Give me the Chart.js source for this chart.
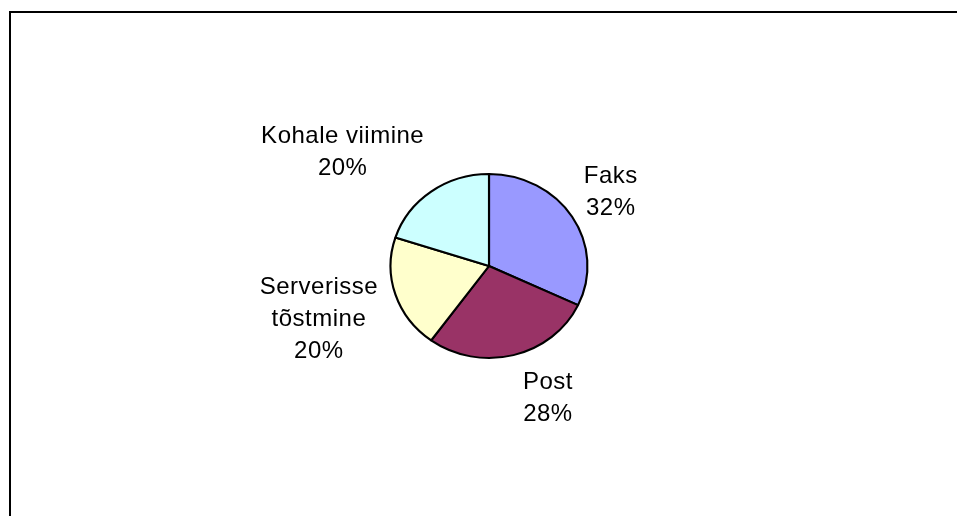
<!DOCTYPE html>
<html>
<head>
<meta charset="utf-8">
<script src="https://cdn.jsdelivr.net/npm/chart.js@4/dist/chart.umd.min.js"></script>
<style>
  html, body { margin: 0; padding: 0; background: #fff; }
  #wrap { width: 957px; height: 516px; position: relative; }
</style>
</head>
<body>
<div id="wrap"><canvas id="pieChart" width="957" height="516"></canvas></div>
<script>
const categories = ['Faks', 'Post', ['Serverisse', 'tõstmine'], 'Kohale viimine'];
const values = [32, 28, 20, 20];
const colors = ['#9999ff', '#993366', '#ffffcc', '#ccffff'];

// small nudges so the labels sit where Excel left them
const labelNudge = [[5, -1], [25, 1], [-8, 6], [-33, -4]];
const xStretch = 1.07; // the original pie is a touch wider than tall

const frame = {
    id: 'frame',
    beforeDraw(chart) {
        const c = chart.ctx;
        c.save();
        c.strokeStyle = '#000';
        c.lineWidth = 2;
        c.beginPath();
        c.moveTo(10, 520);
        c.lineTo(10, 12);
        c.lineTo(960, 12);
        c.stroke();
        c.restore();
    }
};

const stretch = {
    id: 'stretch',
    beforeDatasetsDraw(chart) {
        const arc = chart.getDatasetMeta(0).data[0];
        const c = chart.ctx;
        c.save();
        c.translate(arc.x, arc.y);
        c.scale(xStretch, 1);
        c.translate(-arc.x, -arc.y);
    },
    afterDatasetsDraw(chart) {
        chart.ctx.restore();
    }
};

const outsideLabels = {
    id: 'outsideLabels',
    afterDraw(chart) {
        const c = chart.ctx;
        const total = values.reduce((a, b) => a + b, 0);
        const lineH = 32;
        c.save();
        c.font = '24px "Liberation Sans", Arial, sans-serif';
        c.letterSpacing = '0.5px';
        c.fillStyle = '#000';
        c.textAlign = 'center';
        c.textBaseline = 'middle';
        chart.getDatasetMeta(0).data.forEach((arc, i) => {
            const name = categories[i];
            const lines = (Array.isArray(name) ? name.slice() : [name]);
            lines.push(Math.round(values[i] / total * 100) + '%');
            const w = Math.max(...lines.map(l => c.measureText(l).width));
            const h = lines.length * lineH;
            const mid = (arc.startAngle + arc.endAngle) / 2;
            const dx = Math.cos(mid), dy = Math.sin(mid);
            const r = arc.outerRadius + 12;
            const bx = arc.x + dx * r * xStretch + dx * w / 2 + labelNudge[i][0];
            const by = arc.y + dy * r + dy * h / 2 + labelNudge[i][1];
            lines.forEach((l, k) => {
                c.fillText(l, bx, by - h / 2 + lineH / 2 + k * lineH);
            });
        });
        c.restore();
    }
};

new Chart(document.getElementById('pieChart'), {
    type: 'pie',
    data: {
        labels: categories,
        datasets: [{
            data: values,
            backgroundColor: colors,
            borderColor: '#000',
            borderWidth: 2
        }]
    },
    options: {
        responsive: false,
        animation: false,
        layout: { padding: { left: 396, right: 375, top: 172, bottom: 156 } },
        plugins: {
            legend: { display: false },
            tooltip: { enabled: false }
        }
    },
    plugins: [frame, stretch, outsideLabels]
});
</script>
</body>
</html>
